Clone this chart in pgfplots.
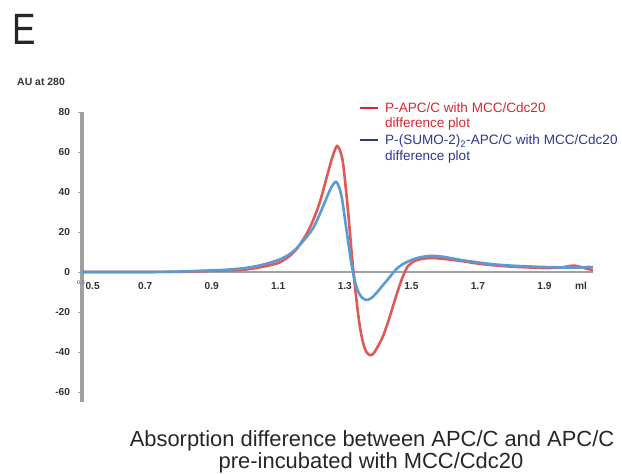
\documentclass[border=0pt]{standalone}
\usepackage{fontspec}
\setmainfont{Liberation Sans}
\usepackage{pgfplots}
\pgfplotsset{compat=1.18}
\usepackage{graphicx}

\definecolor{redline}{HTML}{E05A55}
\definecolor{blueline}{HTML}{5B9BD5}
\definecolor{legred}{HTML}{D7262E}
\definecolor{legblue}{HTML}{2E3592}
\definecolor{axisgray}{HTML}{A0A0A0}
\definecolor{ticktext}{HTML}{333333}

\begin{document}
\begin{tikzpicture}
\path[use as bounding box] (0,0) rectangle (622bp,474bp);

\begin{axis}[
  at={(82bp,72bp)}, anchor=south west,
  scale only axis, width=511bp, height=290bp,
  xmin=0.51, xmax=2.046, ymin=-65, ymax=80,
  axis y line*=left, axis x line*=middle,
  axis line style={draw=none},
  ytick={-60,-40,-20,0,20,40,60,80},
  xtick={0.542,0.7,0.9,1.1,1.3,1.5,1.7,1.9,2.01},
  xticklabels={0.5,0.7,0.9,1.1,1.3,1.5,1.7,1.9,ml},
  /pgf/number format/assume math mode=true,
  tick label style={font=\fontsize{10.2}{12}\selectfont\bfseries, text=ticktext},
  tick align=outside, major tick length=3.5bp,
  y tick style={draw=axisgray, line width=0.9bp},
  x tick style={draw=none},
  yticklabel style={xshift=-5bp},
  xticklabel style={yshift=-3bp},
  clip=false,
]
% axis lines (grey, as in the reference)
\draw[axisgray, line width=3bp] (axis cs:0.51,-65) -- (axis cs:0.51,80);
\draw[axisgray, line width=2.6bp] (axis cs:0.51,0) -- (axis cs:2.046,0);

\addplot[redline, line width=2.6bp, smooth, tension=0.5] coordinates {
  (0.51,0) (0.6,0) (0.7,0) (0.8,0.1) (0.85,0.3) (0.9,0.6) (0.95,0.8)
  (1.0,1.2) (1.05,2.5) (1.1,4.5) (1.13,7.5) (1.155,11.5) (1.185,19)
  (1.205,26) (1.225,35) (1.245,47) (1.26,56) (1.27,61) (1.277,63)
  (1.285,61) (1.295,54) (1.31,30) (1.323,5) (1.335,-14) (1.345,-27)
  (1.355,-35.5) (1.365,-40) (1.375,-41.5) (1.385,-41) (1.4,-37)
  (1.415,-32) (1.43,-25) (1.445,-17) (1.46,-9) (1.475,-2) (1.49,3)
  (1.51,5.5) (1.53,6.5) (1.56,7) (1.6,6.5) (1.65,5.5) (1.7,4.2)
  (1.75,3.3) (1.8,2.7) (1.85,2.3) (1.9,2) (1.95,2.2) (1.975,3)
  (1.99,3.2) (2.01,2.5) (2.03,1.5) (2.046,1)
};
\addplot[blueline, line width=2.6bp, smooth, tension=0.5] coordinates {
  (0.51,0) (0.7,0) (0.8,0.2) (0.85,0.5) (0.9,0.8) (0.95,1.2) (1.0,2)
  (1.05,3.5) (1.1,6) (1.13,8.5) (1.155,11.8) (1.185,17.5) (1.205,22)
  (1.225,29) (1.245,37) (1.26,42.5) (1.275,45) (1.29,38) (1.305,21)
  (1.32,4) (1.335,-7.5) (1.35,-12.5) (1.365,-14) (1.38,-13)
  (1.395,-10.5) (1.41,-7.5) (1.425,-4.5) (1.44,-1.5) (1.455,1.5)
  (1.475,4) (1.5,6) (1.525,7.3) (1.55,8) (1.575,8) (1.6,7.5) (1.65,6)
  (1.7,4.8) (1.75,3.8) (1.8,3.2) (1.85,2.8) (1.9,2.5) (1.95,2.3)
  (2.0,2.2) (2.03,2.5) (2.046,2.4)
};
\node[font=\fontsize{5.5}{6}\selectfont\bfseries, text=gray, anchor=north]
  at (axis cs:0.507,-2.5) {0.5};
\end{axis}

% panel letter and axis title
\node[anchor=base west, inner sep=0pt, text=black!85] at (12bp,429bp)
  {\scalebox{0.8}[1]{\fontsize{44}{44}\selectfont E}};
\node[anchor=base west, inner sep=0pt, text=ticktext,
  font=\fontsize{10.5}{12}\selectfont\bfseries] at (17bp,388bp) {AU at 280};

% legend
\draw[legred, line width=2.4bp] (360bp,365.7bp) -- (378bp,365.7bp);
\draw[legblue, line width=2.4bp] (360bp,334bp) -- (378bp,334bp);
\begin{scope}[every node/.style={anchor=base west, inner sep=0pt,
    font=\fontsize{13.6}{15}\selectfont}]
  \node[text=legred] at (385bp,361.7bp) {P-APC/C with MCC/Cdc20};
  \node[text=legred] at (385bp,346.7bp) {difference plot};
  \node[text=legblue] at (385bp,329bp) {P-(SUMO-2)\textsubscript{2}-APC/C with MCC/Cdc20};
  \node[text=legblue] at (385bp,313.3bp) {difference plot};
\end{scope}

% caption
\begin{scope}[every node/.style={anchor=base, inner sep=0pt,
    font=\fontsize{22}{24}\selectfont, text=black!85}]
  \node at (372bp,28bp) {Absorption difference between APC/C and APC/C};
  \node at (371bp,6bp) {pre-incubated with MCC/Cdc20};
\end{scope}
\end{tikzpicture}
\end{document}
